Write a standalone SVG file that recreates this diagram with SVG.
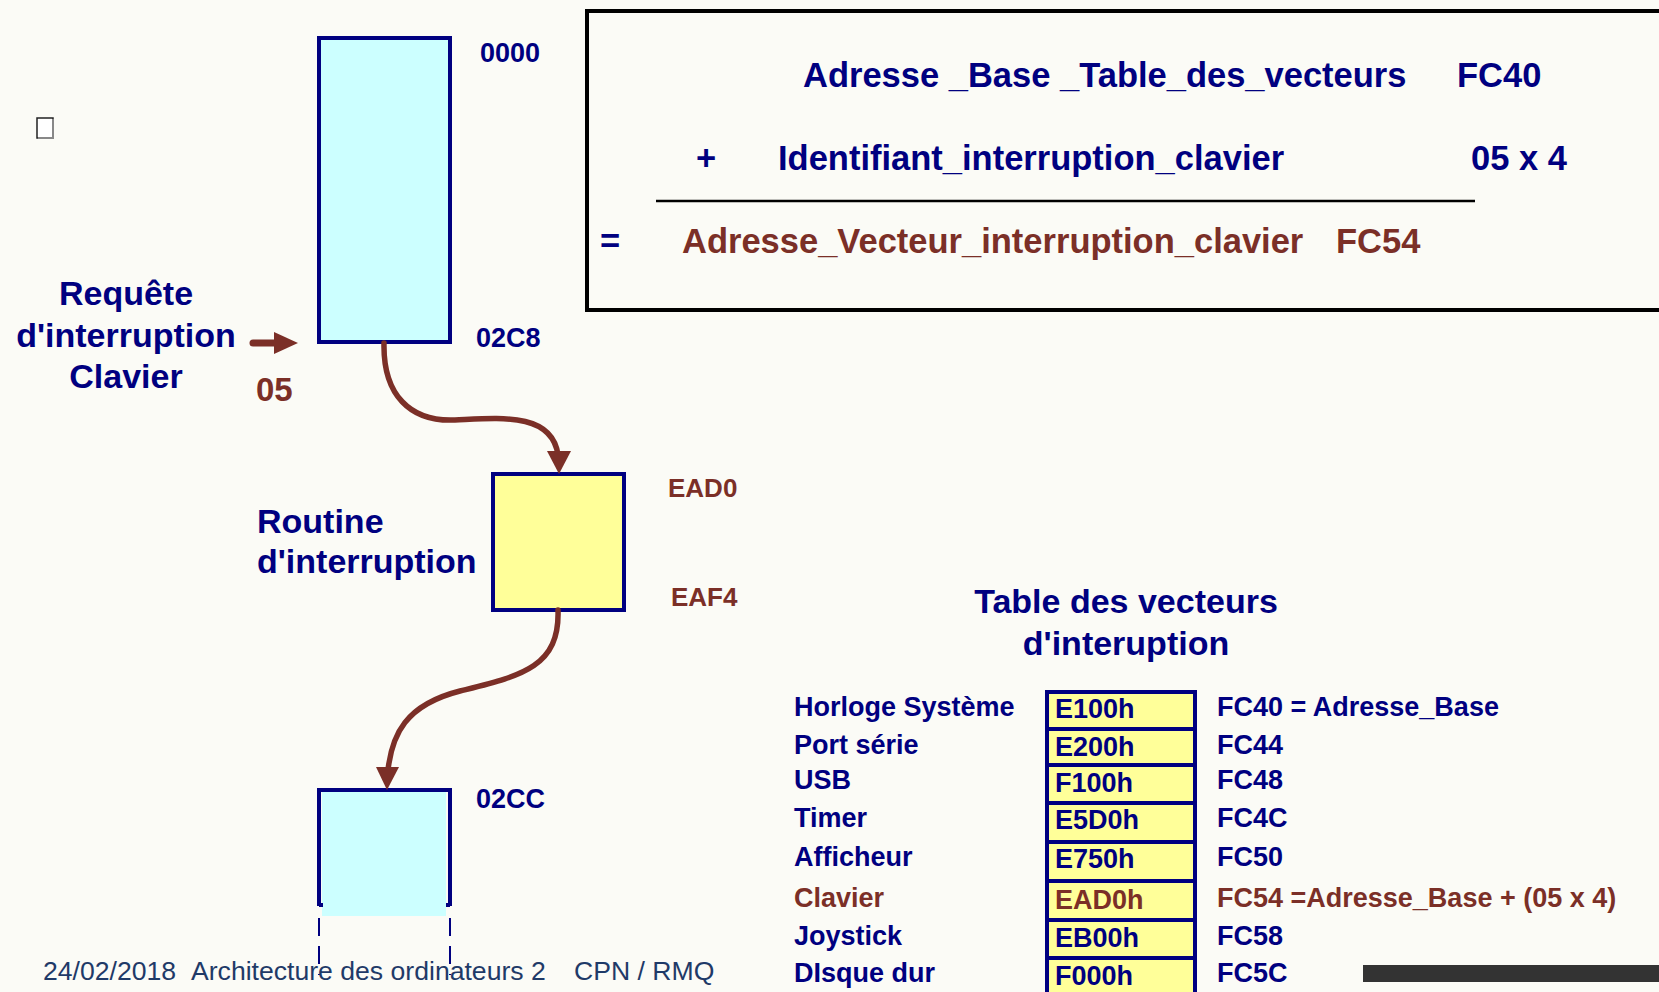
<svg xmlns="http://www.w3.org/2000/svg" width="1659" height="992" viewBox="0 0 1659 992">
<style>
.nb{font-family:"Liberation Sans",Arial,sans-serif;font-weight:bold;fill:#000080}
.br{font-family:"Liberation Sans",Arial,sans-serif;font-weight:bold;fill:#7B2F27}
.ft{font-family:"Liberation Sans",Arial,sans-serif;fill:#1F3A68;font-size:26.6px}
.mem{fill:#CCFFFF;stroke:#000080;stroke-width:4}
.cell{fill:#FFFF99;stroke:#000080;stroke-width:4}
.conn{fill:none;stroke:#7B2F27;stroke-width:5.5;stroke-linecap:round}
.head{fill:#7B2F27}
</style>
<rect x="0" y="0" width="1659" height="992" fill="#FBFBF6"/>

<g id="small-square">
<rect x="37" y="118" width="16" height="20" fill="#FFFFFF" stroke="#222" stroke-width="1.5"/>
<path d="M53,119 V138 H38" fill="none" stroke="#888" stroke-width="2"/>
</g>

<g id="formula-box">
<rect x="587" y="11" width="1100" height="299" fill="none" stroke="#000" stroke-width="4"/>
<text class="nb" x="803" y="87" font-size="34.5">Adresse _Base _Table_des_vecteurs</text>
<text class="nb" x="1457" y="87" font-size="34.5">FC40</text>
<text class="nb" x="696" y="170" font-size="34.5">+</text>
<text class="nb" x="778" y="170" font-size="34.5">Identifiant_interruption_clavier</text>
<text class="nb" x="1471" y="170" font-size="34.5">05 x 4</text>
<line x1="656" y1="201" x2="1475" y2="201" stroke="#000" stroke-width="2.5"/>
<text class="nb" x="600" y="253" font-size="34.5">=</text>
<text class="br" x="682" y="253" font-size="34.5">Adresse_Vecteur_interruption_clavier</text>
<text class="br" x="1336" y="253" font-size="34.5">FC54</text>
</g>

<g id="memory-top">
<rect class="mem" x="319" y="38" width="131" height="304"/>
<text class="nb" x="480" y="62" font-size="27">0000</text>
<text class="nb" x="476" y="347" font-size="27">02C8</text>
</g>

<g id="request-label">
<text class="nb" x="126" y="305" font-size="34" text-anchor="middle">Requête</text>
<text class="nb" x="126" y="347" font-size="34" text-anchor="middle">d'interruption</text>
<text class="nb" x="126" y="388" font-size="34" text-anchor="middle">Clavier</text>
<text class="br" x="256" y="401" font-size="33">05</text>
</g>

<g id="routine">
<rect x="493" y="474" width="131" height="136" fill="#FFFF99" stroke="#000080" stroke-width="4"/>
<text class="br" x="668" y="497" font-size="26">EAD0</text>
<text class="br" x="671" y="606" font-size="26">EAF4</text>
<text class="nb" x="257" y="533" font-size="34">Routine</text>
<text class="nb" x="257" y="573" font-size="34">d'interruption</text>
</g>

<g id="memory-bottom">
<rect x="322" y="790" width="124" height="126" fill="#CCFFFF"/>
<path d="M319,906 V790 H450 V906" fill="none" stroke="#000080" stroke-width="4"/>
<path d="M319,905 h4 M450,905 h-4" stroke="#000080" stroke-width="4"/>
<path d="M319,918 V975 M450,918 V975" stroke="#000080" stroke-width="2" stroke-dasharray="18 10"/>
<text class="nb" x="476" y="808" font-size="27">02CC</text>
</g>

<g id="connectors">
<line x1="253" y1="343" x2="280" y2="343" stroke="#7B2F27" stroke-width="7" stroke-linecap="round"/>
<polygon class="head" points="274,332 298,343 274,354"/>
<path class="conn" d="M384,343 C383,395 410,422 455,420 C500,418 552,412 558,455"/>
<polygon class="head" points="547,451 571,451 559,474"/>
<path class="conn" d="M558,610 C560,668 520,676 460,691 C405,705 392,735 388,770"/>
<polygon class="head" points="376,767 399,767 387,790"/>
</g>

<g id="vector-table">
<text class="nb" x="1126" y="613" font-size="34" text-anchor="middle">Table des vecteurs</text>
<text class="nb" x="1126" y="655" font-size="34" text-anchor="middle">d'interuption</text>
<rect class="cell" x="1047" y="692" width="148" height="37"/>
<rect class="cell" x="1047" y="729" width="148" height="36"/>
<rect class="cell" x="1047" y="765" width="148" height="38"/>
<rect class="cell" x="1047" y="803" width="148" height="39"/>
<rect class="cell" x="1047" y="842" width="148" height="39"/>
<rect class="cell" x="1047" y="881" width="148" height="39"/>
<rect class="cell" x="1047" y="920" width="148" height="38"/>
<rect class="cell" x="1047" y="958" width="148" height="40"/>
<g font-size="27">
<text class="nb" x="794" y="716">Horloge Système</text>
<text class="nb" x="794" y="754">Port série</text>
<text class="nb" x="794" y="789">USB</text>
<text class="nb" x="794" y="827">Timer</text>
<text class="nb" x="794" y="866">Afficheur</text>
<text class="br" x="794" y="907">Clavier</text>
<text class="nb" x="794" y="945">Joystick</text>
<text class="nb" x="794" y="982">DIsque dur</text>
<text class="nb" x="1055" y="718">E100h</text>
<text class="nb" x="1055" y="756">E200h</text>
<text class="nb" x="1055" y="792">F100h</text>
<text class="nb" x="1055" y="829">E5D0h</text>
<text class="nb" x="1055" y="868">E750h</text>
<text class="br" x="1055" y="909">EAD0h</text>
<text class="nb" x="1055" y="947">EB00h</text>
<text class="nb" x="1055" y="985">F000h</text>
<text class="nb" x="1217" y="716">FC40 = Adresse_Base</text>
<text class="nb" x="1217" y="754">FC44</text>
<text class="nb" x="1217" y="789">FC48</text>
<text class="nb" x="1217" y="827">FC4C</text>
<text class="nb" x="1217" y="866">FC50</text>
<text class="br" x="1217" y="907">FC54 =Adresse_Base + (05 x 4)</text>
<text class="nb" x="1217" y="945">FC58</text>
<text class="nb" x="1217" y="982">FC5C</text>
</g>
</g>

<rect x="1363" y="965" width="296" height="17" fill="#333333"/>

<g id="footer">
<text class="ft" x="43" y="980">24/02/2018</text>
<text class="ft" x="191" y="980">Architecture des ordinateurs 2</text>
<text class="ft" x="574" y="980">CPN / RMQ</text>
</g>
</svg>
